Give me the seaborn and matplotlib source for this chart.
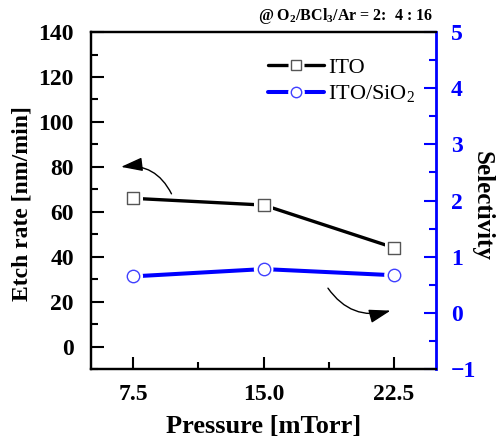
import numpy as np
import pandas as pd
import seaborn as sns
import matplotlib
matplotlib.use("Agg")
import matplotlib.pyplot as plt
from matplotlib.lines import Line2D
from matplotlib.legend_handler import HandlerTuple
from matplotlib.ticker import MultipleLocator

# Measured values
pressure = [7.5, 15.0, 22.5]
etch_rate_ito = [66, 63, 44]
selectivity = [0.65, 0.78, 0.67]
x_ticks = [7.5, 15.0, 22.5]
x_tick_labels = ["7.5", "15.0", "22.5"]

sns.set_theme(style="ticks")
plt.rcParams["font.family"] = ["Liberation Serif", "DejaVu Serif"]
plt.rcParams["mathtext.fontset"] = "custom"
plt.rcParams["mathtext.rm"] = "Liberation Serif"
plt.rcParams["mathtext.bf"] = "Liberation Serif:bold"
plt.rcParams["mathtext.it"] = "Liberation Serif:italic"
for key in ("text.color", "axes.labelcolor", "xtick.color", "ytick.color", "axes.edgecolor"):
    plt.rcParams[key] = "black"

BLUE = "#0000ff"
df_etch = pd.DataFrame({"p": pressure, "v": etch_rate_ito})
df_sel = pd.DataFrame({"p": pressure, "v": selectivity})

fig = plt.figure(figsize=(4.98, 4.46), dpi=100)
ax = fig.add_axes([0.182, 0.1726, 0.693, 0.7554])
ax2 = ax.twinx()

# Etch rate on the left axis
sns.lineplot(data=df_etch, x="p", y="v", ax=ax, color="black", lw=2.4, zorder=2)
sns.scatterplot(data=df_etch, x="p", y="v", ax=ax, marker="s", s=180,
                color="white", edgecolor="none", zorder=3)
sns.scatterplot(data=df_etch, x="p", y="v", ax=ax, marker="s", s=70,
                facecolor="white", edgecolor="#555555", linewidth=1.0, zorder=4)

# Selectivity on the right axis
sns.lineplot(data=df_sel, x="p", y="v", ax=ax2, color=BLUE, lw=2.9, zorder=2)
sns.scatterplot(data=df_sel, x="p", y="v", ax=ax2, marker="o", s=200,
                color="white", edgecolor="none", zorder=3)
sns.scatterplot(data=df_sel, x="p", y="v", ax=ax2, marker="o", s=80,
                facecolor="white", edgecolor="#4040ff", linewidth=1.0, zorder=4)

ax.set_xlim(5.05, 24.9)
ax.set_ylim(-10, 140)
ax2.set_ylim(-1, 5)

ax.set_xticks(x_ticks)
ax.set_xticklabels(x_tick_labels)
ax.xaxis.set_minor_locator(MultipleLocator(3.75))
ax.set_yticks(np.arange(0, 141, 20))
ax.yaxis.set_minor_locator(MultipleLocator(10))
ax2.set_yticks(np.arange(-1, 6, 1))
ax2.yaxis.set_minor_locator(MultipleLocator(0.5))

for a in (ax, ax2):
    a.tick_params(which="major", direction="in", length=9, width=1.5)
    a.tick_params(which="minor", direction="in", length=5, width=1.5)
    for sp in a.spines.values():
        sp.set_linewidth(1.6)
        sp.set_color("black")

ax.tick_params(axis="both", labelsize=17, colors="black")
ax.tick_params(axis="y", pad=12)
ax.tick_params(axis="x", pad=11)
ax.tick_params(axis="y", right=False, which="both")
ax.tick_params(axis="x", top=False, which="both")
for lbl in ax.get_xticklabels() + ax.get_yticklabels():
    lbl.set_fontweight("bold")

ax2.tick_params(axis="y", colors=BLUE, labelsize=17, pad=11, which="both")
for lbl in ax2.get_yticklabels():
    lbl.set_fontweight("bold")
ax2.spines["right"].set_color(BLUE)
ax2.spines["right"].set_linewidth(2.0)
ax.spines["right"].set_visible(False)

ax.set_xlabel("Pressure [mTorr]", fontsize=19, fontweight="bold", labelpad=7)
ax.set_ylabel("")
ax2.set_ylabel("")
fig.text(0.044, 0.543, "Etch rate [nm/min]", rotation=90, ha="center", va="center",
         fontsize=17, fontweight="bold")
fig.text(0.969, 0.538, "Selectivity", rotation=270, ha="center", va="center",
         fontsize=18, fontweight="bold")

# Curved arrows pointing to each series' axis
ax.annotate("", xy=(6.8, 80), xytext=(9.7, 68),
            arrowprops=dict(arrowstyle="-|>,head_length=1.1,head_width=0.35",
                            connectionstyle="arc3,rad=0.35", color="black",
                            lw=1.0, shrinkA=0, shrinkB=0))
ax.annotate("", xy=(22.3, 16), xytext=(18.7, 26),
            arrowprops=dict(arrowstyle="-|>,head_length=1.1,head_width=0.35",
                            connectionstyle="arc3,rad=0.35", color="black",
                            lw=1.0, shrinkA=0, shrinkB=0))

# Legend with gaps around markers
h1 = (Line2D([], [], color="black", lw=2.4),
      Line2D([], [], marker="s", ls="none", ms=12, mfc="white", mec="none"),
      Line2D([], [], marker="s", ls="none", ms=7, mfc="white", mec="#555555", mew=1.0))
h2 = (Line2D([], [], color=BLUE, lw=2.9),
      Line2D([], [], marker="o", ls="none", ms=12, mfc="white", mec="none"),
      Line2D([], [], marker="o", ls="none", ms=7.5, mfc="white", mec="#4040ff", mew=1.0))
ax.legend([h1, h2], ["ITO", r"ITO/SiO$_2$"], handler_map={tuple: HandlerTuple(ndivide=1)},
          loc="upper left", bbox_to_anchor=(0.515, 0.925), frameon=False,
          fontsize=16, handlelength=2.5, handletextpad=0.2, labelspacing=0.25,
          borderpad=0, borderaxespad=0)

fig.text(0.87, 0.955, r"@ O$_\mathbf{2}$/BCl$_\mathbf{3}$/Ar = 2:  4 : 16",
         ha="right", va="baseline", fontsize=11.5, fontweight="bold")

fig.savefig("out.png", dpi=100)
